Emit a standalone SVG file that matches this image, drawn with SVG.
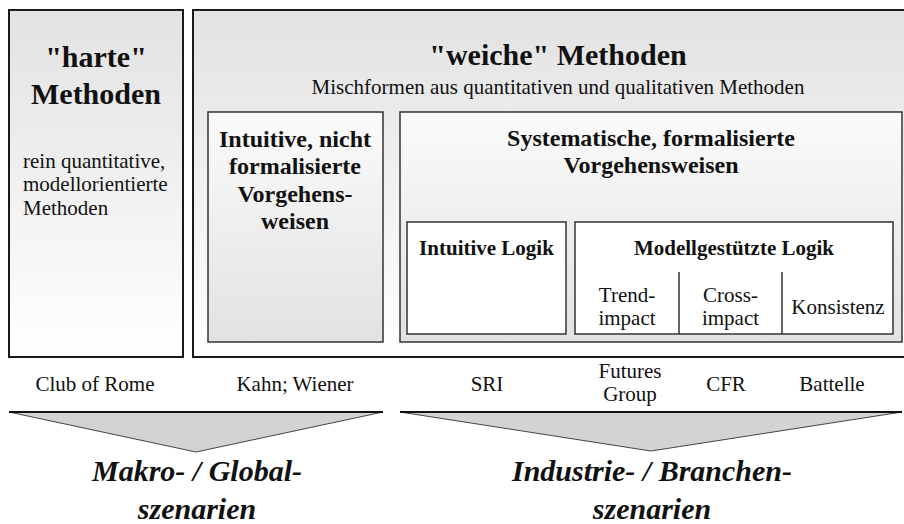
<svg xmlns="http://www.w3.org/2000/svg" width="904" height="524" viewBox="0 0 904 524">
<defs>
<linearGradient id="gDown" x1="0" y1="0" x2="0" y2="1">
<stop offset="0" stop-color="#e2e2e2"/>
<stop offset="1" stop-color="#ffffff"/>
</linearGradient>
<linearGradient id="gUp" x1="0" y1="0" x2="0" y2="1">
<stop offset="0" stop-color="#fbfbfb"/>
<stop offset="1" stop-color="#e2e2e2"/>
</linearGradient>
<style>
text{font-family:"Liberation Serif","Times New Roman",serif;fill:#111;text-anchor:middle}
.outer{fill:url(#gDown);stroke:#1a1a1a;stroke-width:2}
.mid{fill:url(#gUp);stroke:#333;stroke-width:1.5}
.inner{fill:#fff;stroke:#333;stroke-width:1.5}
.h1{font-size:30px;font-weight:bold}
.h2{font-size:24px;font-weight:bold}
.h3{font-size:21px;font-weight:bold}
.t{font-size:21px}
.big{font-size:30px;font-weight:bold;font-style:italic}
.funnel{fill:#d3d3d3;stroke:#444;stroke-width:1}
.ftop{stroke:#111;stroke-width:2}
.div{stroke:#333;stroke-width:1.5}
</style>
</defs>

<g id="harte">
<rect class="outer" x="9" y="10" width="174" height="347"/>
<text class="h1" x="96" y="67">"harte"</text>
<text class="h1" x="96" y="104">Methoden</text>
<text class="t" x="23" y="168" style="text-anchor:start">rein quantitative,</text>
<text class="t" x="23" y="191" style="text-anchor:start">modellorientierte</text>
<text class="t" x="23" y="215" style="text-anchor:start">Methoden</text>
</g>

<g id="weiche">
<rect class="outer" x="193" y="10" width="740" height="347"/>
<text class="h1" x="558" y="65">"weiche" Methoden</text>
<text class="t" x="558" y="94">Mischformen aus quantitativen und qualitativen Methoden</text>
</g>

<g id="intuitive">
<rect class="mid" x="208" y="112" width="175" height="230"/>
<text class="h2" x="295" y="147">Intuitive, nicht</text>
<text class="h2" x="295" y="174">formalisierte</text>
<text class="h2" x="295" y="202">Vorgehens-</text>
<text class="h2" x="295" y="229">weisen</text>
</g>

<g id="systematische">
<rect class="mid" x="400" y="112" width="502" height="230"/>
<text class="h2" x="651" y="146">Systematische, formalisierte</text>
<text class="h2" x="651" y="173">Vorgehensweisen</text>
</g>

<g id="intuitive-logik">
<rect class="inner" x="407" y="222" width="159" height="112"/>
<text class="h3" x="486.5" y="255">Intuitive Logik</text>
</g>

<g id="modell">
<rect class="inner" x="575" y="222" width="318" height="112"/>
<text class="h3" x="734" y="255">Modellgestützte Logik</text>
<line class="div" x1="679" y1="272" x2="679" y2="334"/>
<line class="div" x1="782" y1="272" x2="782" y2="334"/>
<text class="t" x="627" y="302">Trend-</text>
<text class="t" x="627" y="325">impact</text>
<text class="t" x="730.5" y="302">Cross-</text>
<text class="t" x="730.5" y="325">impact</text>
<text class="t" x="838" y="314">Konsistenz</text>
</g>

<g id="labels">
<text class="t" x="95" y="391">Club of Rome</text>
<text class="t" x="295" y="391">Kahn; Wiener</text>
<text class="t" x="487" y="391">SRI</text>
<text class="t" x="630" y="378">Futures</text>
<text class="t" x="630" y="401">Group</text>
<text class="t" x="726" y="391">CFR</text>
<text class="t" x="832" y="391">Battelle</text>
</g>

<g id="connectors">
<polygon class="funnel" points="9,412 383,412 196,452"/>
<line class="ftop" x1="9" y1="412" x2="383" y2="412"/>
<polygon class="funnel" points="400,412 902,412 651,451"/>
<line class="ftop" x1="400" y1="412" x2="902" y2="412"/>
</g>

<g id="makro">
<text class="big" x="197" y="481">Makro- / Global-</text>
<text class="big" x="197" y="519">szenarien</text>
</g>

<g id="industrie">
<text class="big" x="652" y="481">Industrie- / Branchen-</text>
<text class="big" x="652" y="519">szenarien</text>
</g>
</svg>
